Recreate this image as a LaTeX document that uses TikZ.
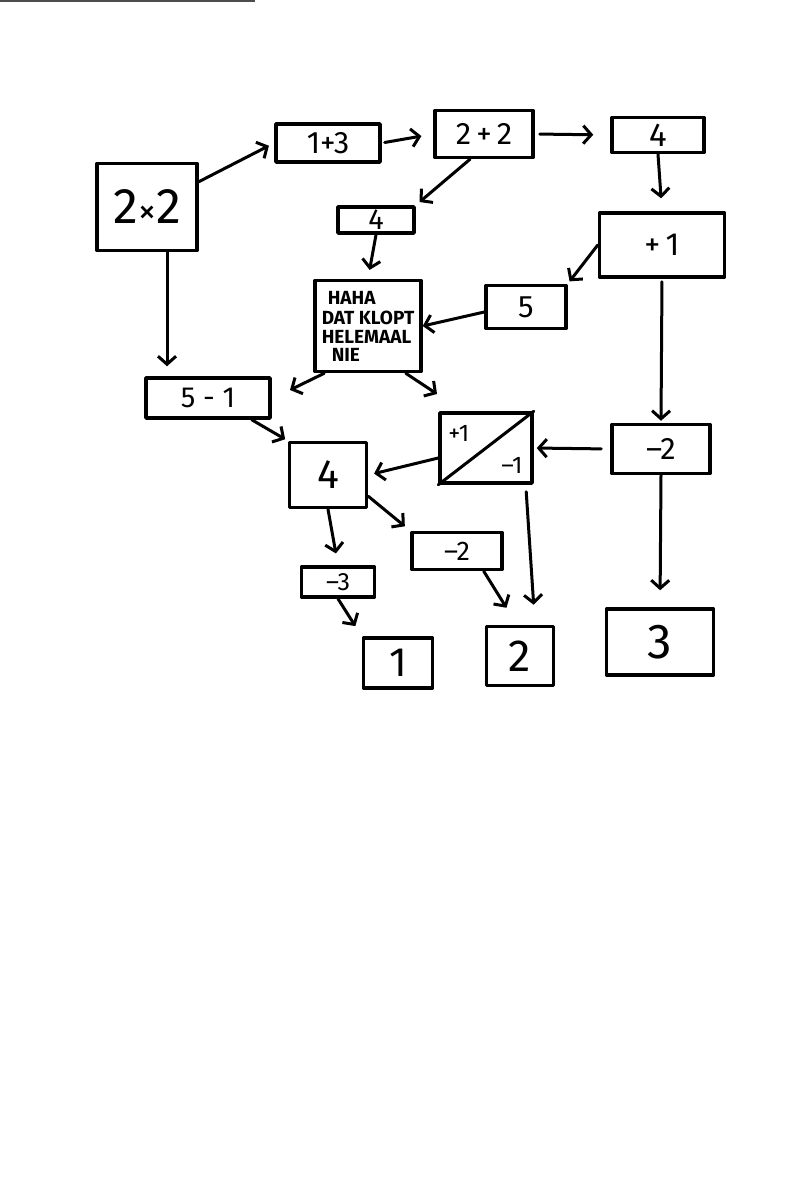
\documentclass[tikz,border=0pt]{standalone}
\usepackage{fontspec}
\setmainfont{Fira Sans}
\usetikzlibrary{arrows.meta}

\begin{document}
\begin{tikzpicture}[x=1pt,y=-1pt,
    box/.style={draw, line width=3.5pt, line join=round, inner sep=0pt},
    arr/.style={line width=3pt, line cap=round, line join=round,
        -{Straight Barb[length=8pt,width=18pt]}}]
    \useasboundingbox (0,0) rectangle (800,1202);
    % edge of the scan
    \draw[black!70, line width=2pt] (0,1) -- (255,1);

    % top row
    \node[box, minimum width=100, minimum height=87, font=\fontsize{50}{54}\selectfont] (x2) at (147,207) {2{\fontsize{36}{40}\selectfont×}2};
    \node[box, minimum width=104, minimum height=38, font=\fontsize{31}{33}\selectfont] (onethree) at (328,143) {1+3};
    \node[box, minimum width=98, minimum height=47, font=\fontsize{31}{33}\selectfont] (twotwo) at (484,134) {2\,+\,2};
    \node[box, minimum width=92, minimum height=35, font=\fontsize{33}{35}\selectfont] (fourtop) at (658,135) {4};

    % middle part
    \node[box, minimum width=76, minimum height=26, font=\fontsize{29}{30}\selectfont] (foursm) at (376,220) {4};
    \node[box, minimum width=125, minimum height=64, font=\fontsize{32}{34}\selectfont] (plusone) at (662,245) {+\,1};
    \node[box, minimum width=80, minimum height=43, font=\fontsize{31}{33}\selectfont] (five) at (526,307) {5};
    \node[box, minimum width=106, minimum height=91, align=left,
        font=\fontsize{19}{21}\selectfont\bfseries] (haha) at (368,326)
        {\hspace*{6pt}HAHA\\[-1pt]DAT KLOPT\\[-2pt]HELEMAAL\\[-3pt]\hspace*{10pt}NIE};
    \node[box, minimum width=124, minimum height=40, font=\fontsize{29}{31}\selectfont] (fiveminus) at (208,398) {5 - 1};

    % the split box
    \node[box, minimum width=92, minimum height=70] (pm) at (486,448) {};
    \draw[line width=3pt, line cap=round] (pm.south west) -- (pm.north east);
    \node[anchor=north west, inner sep=0pt, font=\fontsize{24}{26}\selectfont] (pmtop)
        at ([xshift=10pt,yshift=-14pt]pm.north west) {+1};
    \node[anchor=south east, inner sep=0pt, font=\fontsize{24}{26}\selectfont] (pmbot)
        at ([xshift=-11pt,yshift=11pt]pm.south east) {–1};

    \node[box, minimum width=77, minimum height=65, font=\fontsize{41}{43}\selectfont] (fourmd) at (328,475) {4};
    \node[box, minimum width=98, minimum height=49, font=\fontsize{31}{33}\selectfont] (mtwoR) at (661,449) {–2};
    \node[box, minimum width=90, minimum height=37, font=\fontsize{27}{29}\selectfont] (mtwomd) at (457,551) {–2};
    \node[box, minimum width=73, minimum height=30, font=\fontsize{25}{27}\selectfont] (mthree) at (338,582) {–3};

    % results
    \node[box, minimum width=69, minimum height=50, font=\fontsize{41}{43}\selectfont] (one) at (398,663) {1};
    \node[box, minimum width=67, minimum height=59, font=\fontsize{45}{47}\selectfont] (two) at (520,656) {2};
    \node[box, minimum width=107, minimum height=66, font=\fontsize{49}{51}\selectfont] (three) at (660,642) {3};

    % loose ends below the joke box
    \coordinate (hahaL) at (290,390);
    \coordinate (hahaR) at (437,394);

    % arrows
    \draw[arr, shorten >=6pt] (x2.26) -- (onethree.west);
    \draw[arr, shorten <=3pt, shorten >=12pt] (onethree.east) -- (twotwo.west);
    \draw[arr, shorten <=5pt, shorten >=17pt] (twotwo.east) -- (fourtop.west);
    \draw[arr, shorten >=5pt] ([xshift=-14pt]twotwo.south) -- (foursm.north east);
    \draw[arr, shorten >=9pt] (foursm.south) -- (haha.north);
    \draw[arr, shorten >=13pt] (fourtop.south) -- (plusone.north);
    \draw[arr, shorten >=3pt] (plusone.west) -- (five.north east);
    \draw[arr, shorten <=3pt, shorten >=2pt] (plusone.south) -- (mtwoR.north);
    \draw[arr] ([yshift=-5pt]five.west) -- (haha.east);
    \draw[arr, shorten >=10pt] ([xshift=20pt]x2.south) -- ([xshift=20pt]x2.south |- fiveminus.north);
    \draw[arr] ([xshift=11pt]haha.south west) -- (hahaL);
    \draw[arr] ([xshift=-17pt]haha.south east) -- (hahaR);
    \draw[arr, shorten >=3pt] ([xshift=-20pt]fiveminus.south east) -- (fourmd.north west);
    \draw[arr, shorten >=6pt] ([yshift=-10pt]pm.west) -- (fourmd.east);
    \draw[arr, shorten <=9pt, shorten >=3pt] (mtwoR.west) -- (pm.east);
    \draw[arr, shorten >=7pt] ([yshift=13pt]fourmd.south east) -- (mtwomd.north west);
    \draw[arr, shorten >=12pt] (fourmd.south) -- (mthree.north);
    \draw[arr, shorten >=12pt] (mthree.south) -- (one.north west);
    \draw[arr, shorten >=20pt] ([xshift=-20pt]mtwomd.south east) -- ([xshift=-3pt]two.north);
    \draw[arr, shorten <=7pt, shorten >=20pt] ([xshift=-8pt]pm.south east) -- ([xshift=15pt]two.north);
    \draw[arr, shorten >=17pt] (mtwoR.south) -- (three.north);
\end{tikzpicture}
\end{document}
